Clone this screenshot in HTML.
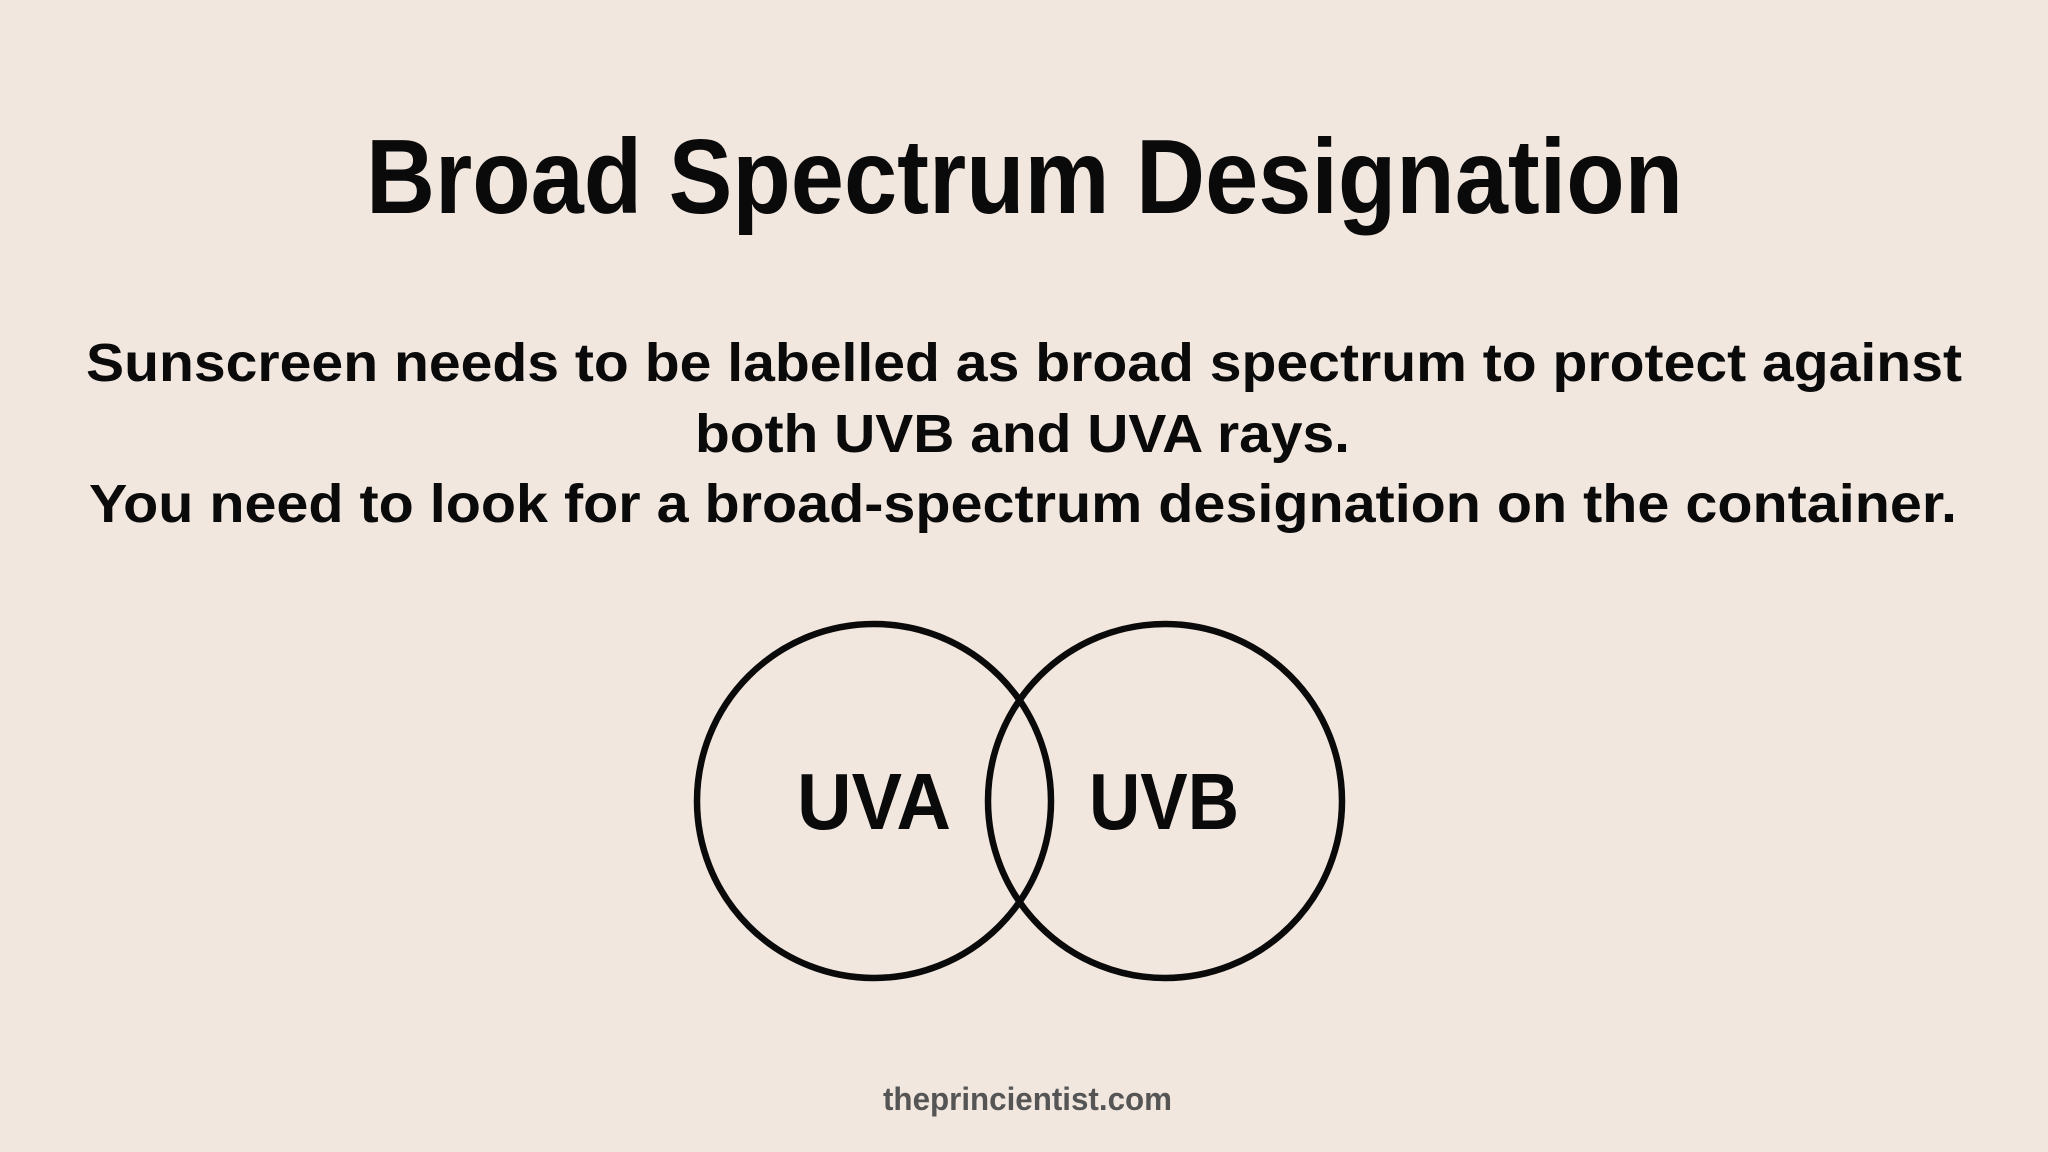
<!DOCTYPE html>
<html><head><meta charset="utf-8"><style>
html,body{margin:0;padding:0;background:#f2e7df;}
svg{display:block}
text{font-family:"Liberation Sans",sans-serif;font-weight:bold;fill:#0a0a0a}
</style></head><body>
<svg width="2048" height="1152" viewBox="0 0 2048 1152" xmlns="http://www.w3.org/2000/svg">
<rect width="2048" height="1152" fill="#f2e7df"/>
<text x="366" y="213" font-size="106" textLength="1317" lengthAdjust="spacingAndGlyphs">Broad Spectrum Designation</text>
<text x="86" y="381" font-size="54" textLength="1876" lengthAdjust="spacingAndGlyphs">Sunscreen needs to be labelled as broad spectrum to protect against</text>
<text x="695" y="452" font-size="54" textLength="655" lengthAdjust="spacingAndGlyphs">both UVB and UVA rays.</text>
<text x="89" y="522" font-size="54" textLength="1868" lengthAdjust="spacingAndGlyphs">You need to look for a broad-spectrum designation on the container.</text>
<circle cx="874" cy="801" r="177" fill="none" stroke="#0a0a0a" stroke-width="6.5"/>
<circle cx="1165" cy="801" r="177" fill="none" stroke="#0a0a0a" stroke-width="6.5"/>
<text x="797" y="829" font-size="80" textLength="154" lengthAdjust="spacingAndGlyphs">UVA</text>
<text x="1089" y="829" font-size="80" textLength="150" lengthAdjust="spacingAndGlyphs">UVB</text>
<text x="883" y="1110" font-size="32" textLength="289" lengthAdjust="spacingAndGlyphs" style="fill:#555">theprincientist.com</text>
</svg>
</body></html>
